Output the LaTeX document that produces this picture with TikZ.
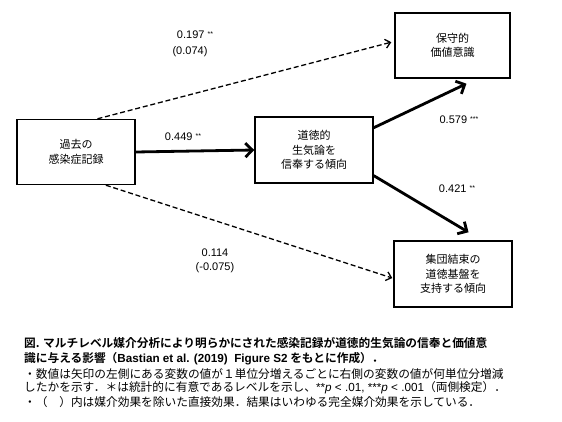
\documentclass[tikz,border=0pt]{standalone}
\usepackage{fontspec}
\setmainfont{Liberation Sans}
\newfontfamily\jp{Noto Sans CJK JP}[BoldFont={Noto Sans CJK JP Bold}]
\usetikzlibrary{arrows.meta,calc}
\newcommand{\sig}[1]{\raisebox{2.5pt}{\fontsize{7}{7}\selectfont #1}}
\begin{document}
\begin{tikzpicture}[x=1pt,y=-1pt,
  box/.style={draw, line width=1.4pt, inner sep=0pt, align=center,
    font=\jp\fontsize{11}{14.5}\selectfont},
  lab/.style={inner sep=0pt, align=center, font=\fontsize{11}{15}\selectfont},
  captext/.style={anchor=west, inner sep=0pt, font=\jp\fontsize{11.7}{14}\selectfont},
  thin arrow/.style={dashed, dash pattern=on 5pt off 2.8pt, line width=1.3pt,
    -{Straight Barb[length=5pt,width=9pt]}},
  thick arrow/.style={line width=2.8pt, -{Straight Barb[length=7pt,width=14pt]}}]
\useasboundingbox (0,0) rectangle (562,422);
\fill[white] (0,0) rectangle (562,422);

\node[box, minimum width=118pt, minimum height=65pt] (A) at (76,152) {過去の\\感染症記録};
\node[box, minimum width=118pt, minimum height=66pt] (B) at (314,150) {道徳的\\生気論を\\信奉する傾向};
\node[box, minimum width=115pt, minimum height=65pt] (C) at (452.5,45.5) {保守的\\価値意識};
\node[box, minimum width=118pt, minimum height=66pt] (D) at (453,274) {集団結束の\\道徳基盤を\\支持する傾向};

\coordinate (a1) at ($(A.north west)!0.68!(A.north east)$);
\coordinate (a2) at ($(A.south west)!0.75!(A.south east)$);
\coordinate (c1) at ($(C.north west)!0.45!(C.south west)+(-3,0)$);
\coordinate (d1) at ($(D.north west)!0.56!(D.south west)+(-1,0)$);
\coordinate (b1) at ($(B.north east)!0.17!(B.south east)$);
\coordinate (b2) at ($(B.north east)!0.88!(B.south east)$);
\coordinate (c2) at ($(C.south west)!0.62!(C.south east)+(0,5)$);
\coordinate (d2) at ($(D.north west)!0.63!(D.north east)+(0,-8)$);

\draw[thin arrow] (a1) -- (c1);
\draw[thin arrow] (a2) -- (d1);
\draw[thick arrow] (A.east) -- (B.west);
\draw[thick arrow] (b1) -- (c2);
\draw[thick arrow] (b2) -- (d2);

\node[lab] (l1) at (195,35) {0.197 \sig{**}};
\node[lab] (l1b) at (190,52) {(0.074)};
\node[lab] (l2) at (183,137) {0.449 \sig{**}};
\node[lab] (l3) at (459,120) {0.579 \sig{***}};
\node[lab] (l4) at (457,189) {0.421 \sig{**}};
\node[lab] (l5) at (215,253) {0.114};
\node[lab] (l5b) at (215,268) {(-0.075)};

\node[captext] (t1) at (24,343) {\bfseries 図. マルチレベル媒介分析により明らかにされた感染記録が道徳的生気論の信奉と価値意};
\node[captext] (t2) at (24,359) {\bfseries 識に与える影響（{\rmfamily\bfseries Bastian et al. (2019)\ \ Figure S2} をもとに作成）．};
\node[captext] (t3) at (24,374) {・数値は矢印の左側にある変数の値が１単位分増えるごとに右側の変数の値が何単位分増減};
\node[captext] (t4) at (24,388) {したかを示す．＊は統計的に有意であるレベルを示し、{\rmfamily **\textit{p} < .01, ***\textit{p} < .001}（両側検定）．};
\node[captext] (t5) at (24,402) {・（　）内は媒介効果を除いた直接効果．結果はいわゆる完全媒介効果を示している．};
\end{tikzpicture}
\end{document}
